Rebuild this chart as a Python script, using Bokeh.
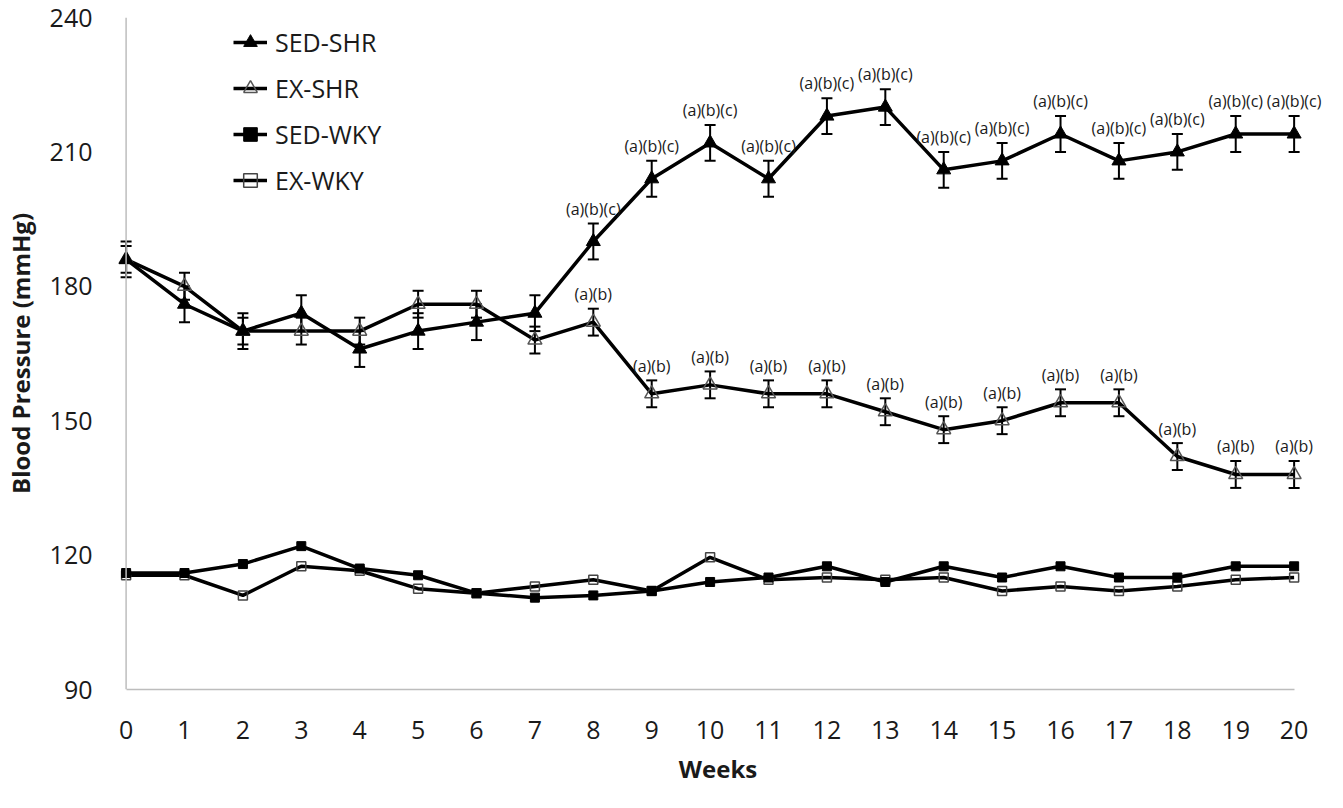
from bokeh.plotting import figure
from bokeh.models import (Range1d, Legend, LegendItem, ColumnDataSource, Whisker,
                          TeeHead, FixedTicker, LabelSet, Span)
from bokeh.embed import file_html
from bokeh.resources import INLINE
from bokeh.core.properties import value

weeks = [0, 1, 2, 3, 4, 5, 6, 7, 8, 9, 10, 11, 12, 13, 14, 15, 16, 17, 18, 19, 20]
sed_shr = [186, 176, 170, 174, 166, 170, 172, 174, 190, 204, 212, 204, 218, 220, 206, 208, 214, 208, 210, 214, 214]
sed_shr_err = [4, 4, 4, 4, 4, 4, 4, 4, 4, 4, 4, 4, 4, 4, 4, 4, 4, 4, 4, 4, 4]
ex_shr = [186, 180, 170, 170, 170, 176, 176, 168, 172, 156, 158, 156, 156, 152, 148, 150, 154, 154, 142, 138, 138]
ex_shr_err = [3, 3, 3, 3, 3, 3, 3, 3, 3, 3, 3, 3, 3, 3, 3, 3, 3, 3, 3, 3, 3]
sed_wky = [116, 116, 118, 122, 117, 115.5, 111.5, 110.5, 111, 112, 114, 115, 117.5, 114, 117.5, 115, 117.5, 115, 115, 117.5, 117.5]
ex_wky = [115.5, 115.5, 111, 117.5, 116.5, 112.5, 111.5, 113, 114.5, 112, 119.5, 114.5, 115, 114.5, 115, 112, 113, 112, 113, 114.5, 115]

label_weeks = [8, 9, 10, 11, 12, 13, 14, 15, 16, 17, 18, 19, 20]
sed_shr_labels = ["(a)(b)(c)"] * 13
ex_shr_labels = ["(a)(b)"] * 13

y_ticks = [90, 120, 150, 180, 210, 240]

FONT = "Open Sans"

p = figure(width=1327, height=792, output_backend="svg", toolbar_location=None,
           x_range=Range1d(-0.25, 20.52), y_range=Range1d(90, 240),
           min_border_left=103, min_border_right=3, min_border_top=17,
           min_border_bottom=103)
p.outline_line_color = None
p.grid.visible = False
p.background_fill_color = "white"

for ax in (p.xaxis[0], p.yaxis[0]):
    ax.axis_line_color = "#bdbdbd"
    ax.axis_line_width = 1.5
    ax.major_tick_line_color = None
    ax.minor_tick_line_color = None
    ax.major_label_text_font = FONT
    ax.major_label_text_font_size = "25px"
    ax.major_label_text_color = "#1a1a1a"
    ax.axis_label_text_font = FONT
    ax.axis_label_text_font_size = "24px"
    ax.axis_label_text_font_style = "bold"
    ax.axis_label_text_color = "#1a1a1a"

p.xaxis.ticker = FixedTicker(ticks=weeks)
p.yaxis.ticker = FixedTicker(ticks=y_ticks)
p.xaxis.bounds = (0, 20)
p.yaxis.axis_line_color = None
p.add_layout(Span(location=0, dimension="height", line_color="#bdbdbd", line_width=1.5))
p.xaxis.axis_label = "Weeks"
p.yaxis.axis_label = "Blood Pressure (mmHg)"
p.xaxis.major_label_standoff = 25
p.xaxis.axis_label_standoff = 10
p.yaxis.major_label_standoff = 13
p.yaxis.axis_label_standoff = 10

def add_err(vals, errs):
    src = ColumnDataSource(dict(x=weeks,
                                upper=[v + e for v, e in zip(vals, errs)],
                                lower=[v - e for v, e in zip(vals, errs)]))
    w = Whisker(source=src, base="x", upper="upper", lower="lower",
                line_color="black", line_width=2,
                upper_head=TeeHead(size=11, line_color="black", line_width=2),
                lower_head=TeeHead(size=11, line_color="black", line_width=2))
    p.add_layout(w)

add_err(sed_shr, sed_shr_err)
add_err(ex_shr, ex_shr_err)

LW = 3.5
l1 = p.line(weeks, ex_wky, line_color="black", line_width=LW)
m1 = p.scatter(weeks, ex_wky, marker="square", size=9, fill_color="white", fill_alpha=0.0,
               line_color="#444444", line_width=1.5)
l2 = p.line(weeks, sed_wky, line_color="black", line_width=LW)
m2 = p.scatter(weeks, sed_wky, marker="square", size=9, fill_color="black", line_color="black")
l3 = p.line(weeks, ex_shr, line_color="black", line_width=LW)
m3 = p.scatter(weeks, ex_shr, marker="triangle", size=14, fill_color="white", fill_alpha=0.0,
               line_color="#555555", line_width=1.5)
l4 = p.line(weeks, sed_shr, line_color="black", line_width=LW)
m4 = p.scatter(weeks, sed_shr, marker="triangle", size=14, fill_color="black", line_color="black")

# significance annotations
sed_lab_src = ColumnDataSource(dict(x=label_weeks, y=[sed_shr[w] for w in label_weeks],
                                    t=sed_shr_labels))
ex_lab_src = ColumnDataSource(dict(x=label_weeks, y=[ex_shr[w] for w in label_weeks],
                                   t=ex_shr_labels))
p.add_layout(LabelSet(source=sed_lab_src, x="x", y="y", text="t", text_align="center",
                      text_baseline="middle", y_offset=33, text_font=value(FONT),
                      text_font_size=value("16px"), text_color=value("#1a1a1a")))
p.add_layout(LabelSet(source=ex_lab_src, x="x", y="y", text="t", text_align="center",
                      text_baseline="middle", y_offset=28, text_font=value(FONT),
                      text_font_size=value("16px"), text_color=value("#1a1a1a")))

legend = Legend(items=[
    LegendItem(label="SED-SHR", renderers=[l4, m4]),
    LegendItem(label="EX-SHR", renderers=[l3, m3]),
    LegendItem(label="SED-WKY", renderers=[l2, m2]),
    LegendItem(label="EX-WKY", renderers=[l1, m1]),
], location=(122, 486))
legend.glyph_width = 34
legend.glyph_height = 46
legend.label_height = 46
legend.label_standoff = 8
legend.spacing = 0
legend.padding = 0
legend.margin = 0
legend.border_line_alpha = 0
legend.background_fill_alpha = 0
legend.label_text_font = FONT
legend.label_text_font_size = "25px"
legend.label_text_color = "#1a1a1a"
p.add_layout(legend)

open("out.html", "w").write(file_html(p, INLINE))
